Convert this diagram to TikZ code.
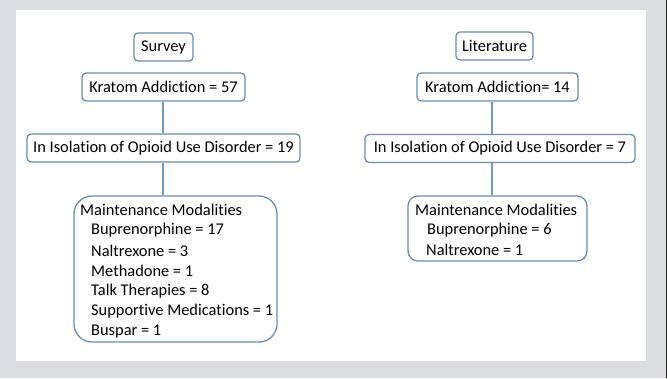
\documentclass[tikz,border=0pt]{standalone}
\usepackage{fontspec}
\setmainfont[Ligatures=NoCommon]{Carlito}
\definecolor{bgray}{HTML}{DCDDE0}
\definecolor{boxline}{HTML}{6A8DB3}
\definecolor{conline}{HTML}{6F9BCB}
\begin{document}
\begin{tikzpicture}[x=1bp,y=-1bp,
  box/.style={draw=boxline,line width=1.3bp,rounded corners=4bp,fill=white,inner sep=0pt,font=\fontsize{16.4bp}{19bp}\selectfont,minimum height=28bp},
  bigbox/.style={draw=boxline,line width=1.3bp,rounded corners=18bp,fill=white,inner sep=0pt},
  txt/.style={anchor=west,inner sep=0pt,font=\fontsize{16.4bp}{19bp}\selectfont},
  con/.style={draw=conline,line width=1.3bp}]
\useasboundingbox (0,0) rectangle (667,378);
\fill[bgray] (0,0) rectangle (667,378);
\fill[white] (16,10) rectangle (646,361);
\draw[black!85,line width=1bp] (666.5,0) -- (666.5,378);
% left column
\node[box,minimum width=59bp] (s) at (163.5,47) {Survey};
\node[box,minimum width=163bp] (k1) at (163.5,87) {Kratom Addiction = 57};
\node[box,minimum width=273bp] (i1) at (163.5,148) {In Isolation of Opioid Use Disorder = 19};
\node[bigbox,minimum width=203bp,minimum height=146bp] (m1) at (175.5,269) {};
\node[txt] (m1a) at (80,210) {Maintenance Modalities};
\node[txt] (m1b) at (91,230.5) {Buprenorphine = 17};
\node[txt] (m1c) at (91,251) {Naltrexone = 3};
\node[txt] (m1d) at (91,271) {Methadone = 1};
\node[txt] (m1e) at (91,291) {Talk Therapies = 8};
\node[txt] (m1f) at (91,311) {Supportive Medications = 1};
\node[txt] (m1g) at (91,331.5) {Buspar = 1};
\draw[con] (k1.south -| 163,0) -- (i1.north -| 163,0);
\draw[con] (i1.south -| 163,0) -- (m1.north -| 163,0);
% right column
\node[box,minimum width=77bp] (l) at (494.5,46) {Literature};
\node[box,minimum width=161bp] (k2) at (497.5,87) {Kratom Addiction= 14};
\node[box,minimum width=270bp] (i2) at (500,148.5) {In Isolation of Opioid Use Disorder = 7};
\node[bigbox,rounded corners=10bp,minimum width=179bp,minimum height=65bp] (m2) at (497.5,228.5) {};
\node[txt] (m2a) at (415,210) {Maintenance Modalities};
\node[txt] (m2b) at (427,230) {Buprenorphine = 6};
\node[txt] (m2c) at (426,250) {Naltrexone = 1};
\draw[con] (k2.south -| 492,0) -- (i2.north -| 492,0);
\draw[con] (i2.south -| 492,0) -- (m2.north -| 492,0);
\end{tikzpicture}
\end{document}
